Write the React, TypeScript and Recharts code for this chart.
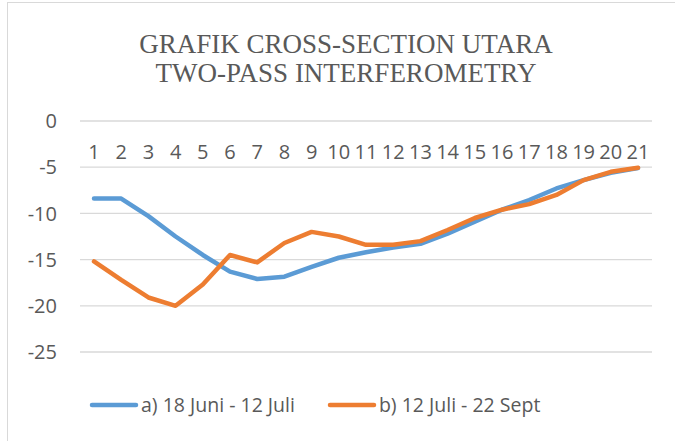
import React from 'react';
import { LineChart, Line, XAxis, YAxis, CartesianGrid } from 'recharts';

const categories = ['1', '2', '3', '4', '5', '6', '7', '8', '9', '10', '11', '12', '13', '14', '15', '16', '17', '18', '19', '20', '21'];
const juniJuli = [-8.4, -8.4, -10.3, -12.5, -14.5, -16.3, -17.1, -16.85, -15.8, -14.8, -14.2, -13.7, -13.3, -12.2, -10.9, -9.6, -8.55, -7.3, -6.4, -5.6, -5.1];
const juliSept = [-15.2, -17.2, -19.1, -20.0, -17.7, -14.5, -15.3, -13.2, -12.0, -12.5, -13.4, -13.4, -13.0, -11.8, -10.5, -9.6, -9.0, -8.0, -6.4, -5.5, -5.05];
const yTicks = [0, -5, -10, -15, -20, -25];

const seriesNames = ['a) 18 Juni - 12 Juli', 'b) 12 Juli - 22 Sept'];
const BLUE = '#5b9bd5';
const ORANGE = '#ed7d31';
const TEXT = '#595959';
const FONT = '"Open Sans", sans-serif';

const data = categories.map((c, i) => ({ name: c, a: juniJuli[i], b: juliSept[i] }));

const XTick = (props: any) => {
  const { x, payload } = props;
  // labels sit below the 0 gridline (axis crosses at 0)
  return (
    <text x={x} y={159} textAnchor="middle" fill={TEXT} fontSize={20} fontFamily={FONT}>
      {payload.value}
    </text>
  );
};

const LegendBlock = () => (
  <div style={{ position: 'absolute', left: 89, top: 391, display: 'flex', alignItems: 'center', fontFamily: FONT, fontSize: 19.5, color: TEXT }}>
    {[BLUE, ORANGE].map((col, i) => (
      <div key={i} style={{ display: 'flex', alignItems: 'center', marginRight: i === 0 ? 32 : 0 }}>
        <svg width={50} height={10} style={{ marginRight: 2 }}>
          <line x1={3} y1={5} x2={47} y2={5} stroke={col} strokeWidth={4.5} strokeLinecap="round" />
        </svg>
        <span>{seriesNames[i]}</span>
      </div>
    ))}
  </div>
);

export default function App() {
  return (
    <div style={{ position: 'absolute', left: 0, top: 0, width: 675, height: 441, overflow: 'hidden', background: '#fff' }}>
      <div style={{ position: 'absolute', left: 7, top: 2, width: 700, height: 500, border: '1px solid #d9d9d9' }} />
      <div
        style={{
          position: 'absolute', left: 0, top: 30, width: 692, textAlign: 'center',
          fontFamily: '"Liberation Serif", serif', fontSize: 27, lineHeight: '29px', color: TEXT,
        }}
      >
        GRAFIK CROSS-SECTION UTARA<br />TWO-PASS INTERFEROMETRY
      </div>
      <div style={{ position: 'absolute', left: 0, top: 0 }}>
        <LineChart width={675} height={441} data={data} margin={{ top: 91, right: 23, bottom: 89, left: 0 }}>
          <CartesianGrid vertical={false} stroke="#d9d9d9" strokeWidth={1.3} />
          <XAxis
            dataKey="name"
            orientation="top"
            height={30}
            axisLine={false}
            tickLine={false}
            interval={0}
            padding={{ left: 14, right: 14 }}
            tick={XTick}
          />
          <YAxis
            domain={[-25, 0]}
            ticks={yTicks}
            width={80}
            axisLine={false}
            tickLine={false}
            tickSize={6}
            tickMargin={17}
            tick={{ fill: TEXT, fontSize: 20, fontFamily: FONT }}
          />
          <Line type="linear" dataKey="a" name={seriesNames[0]} stroke={BLUE} strokeWidth={4.5} dot={false} strokeLinecap="round" strokeLinejoin="round" isAnimationActive={false} />
          <Line type="linear" dataKey="b" name={seriesNames[1]} stroke={ORANGE} strokeWidth={4.5} dot={false} strokeLinecap="round" strokeLinejoin="round" isAnimationActive={false} />
        </LineChart>
      </div>
      <LegendBlock />
    </div>
  );
}
